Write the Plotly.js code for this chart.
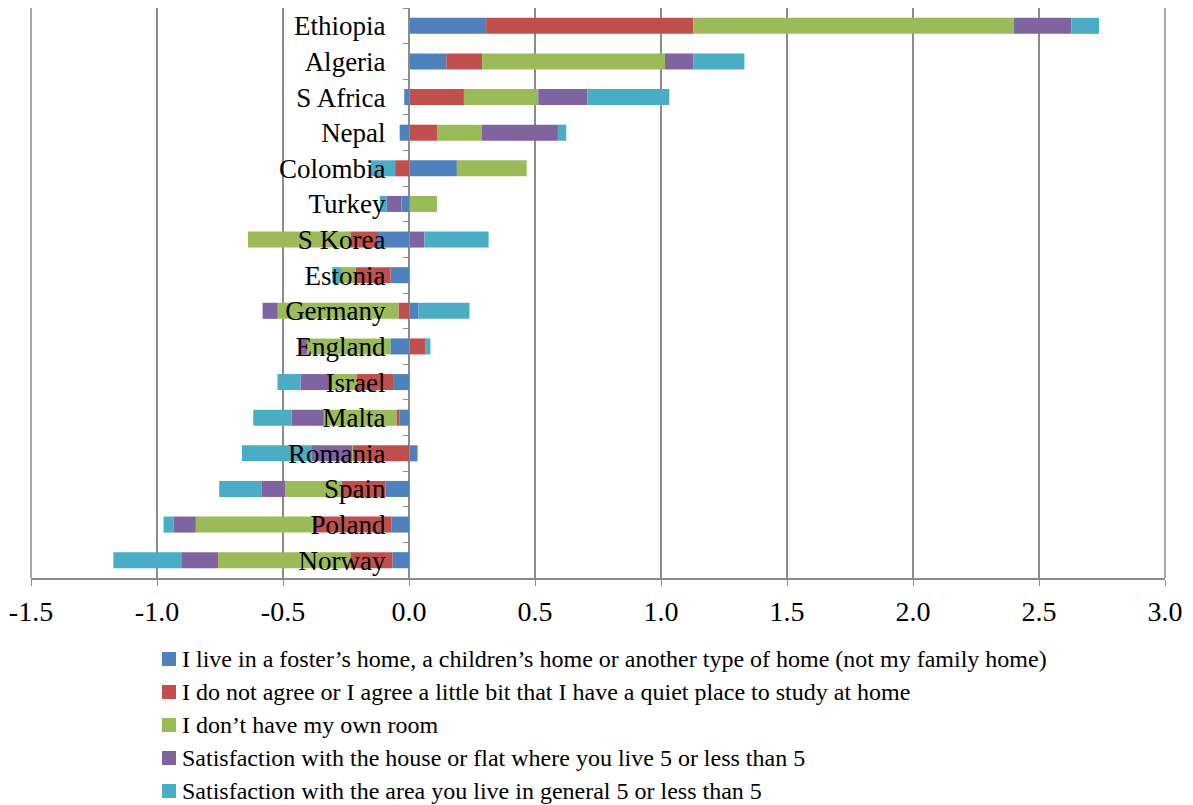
<!DOCTYPE html>
<html>
<head>
<meta charset="utf-8">
<script src="https://cdn.plot.ly/plotly-3.0.1.min.js"></script>
<style>html,body{margin:0;padding:0;background:#fff;}#chart{width:1193px;height:805px;}</style>
</head>
<body>
<div id="chart"></div>
<script>
// Categories, top to bottom
var countries = ["Ethiopia","Algeria","S Africa","Nepal","Colombia","Turkey","S Korea","Estonia","Germany","England","Israel","Malta","Romania","Spain","Poland","Norway"];

var seriesNames = [
  "I live in a foster\u2019s home, a children\u2019s home or another type of home (not my family home)",
  "I do not agree or I agree a little bit that I have a quiet place to study at home",
  "I don\u2019t have my own room",
  "Satisfaction with the house or flat where you live 5 or less than 5",
  "Satisfaction with the area you live in general 5 or less than 5"
];

var fosterHome   = [0.306, 0.148, -0.019, -0.037, 0.190, -0.030, -0.123, -0.073, 0.038, -0.074, -0.060, -0.037, 0.034, -0.094, -0.070, -0.066];
var quietPlace   = [0.822, 0.142, 0.218, 0.111, -0.055, 0.000, -0.110, -0.139, -0.042, 0.066, -0.149, -0.013, -0.222, -0.172, -0.310, -0.167];
var ownRoom      = [1.273, 0.726, 0.295, 0.177, 0.277, 0.111, -0.406, -0.058, -0.479, -0.330, -0.103, -0.288, -0.004, -0.225, -0.466, -0.525];
var houseSatisf  = [0.227, 0.112, 0.195, 0.303, 0.000, -0.058, 0.061, 0.000, -0.060, -0.024, -0.119, -0.127, -0.159, -0.095, -0.087, -0.146];
var areaSatisf   = [0.110, 0.203, 0.325, 0.033, -0.097, -0.028, 0.255, -0.035, 0.202, 0.019, -0.091, -0.153, -0.278, -0.167, -0.041, -0.269];

var xTickVals = [-1.5, -1.0, -0.5, 0.0, 0.5, 1.0, 1.5, 2.0, 2.5, 3.0];
var xTickText = ["-1.5","-1.0","-0.5","0.0","0.5","1.0","1.5","2.0","2.5","3.0"];

var colors = ["#4F81BD","#C0504D","#9BBB59","#8064A2","#4BACC6"];
var allSeries = [fosterHome, quietPlace, ownRoom, houseSatisf, areaSatisf];

var traces = allSeries.map(function(vals, i){
  return {
    type: "bar",
    orientation: "h",
    name: seriesNames[i],
    x: vals,
    y: countries,
    marker: {color: colors[i], line: {width: 0}},
    hoverinfo: "x+y+name",
    showlegend: false
  };
});

var serif = "Liberation Serif";
var gridColor = "#8c8c8c";

// Plot area geometry (pixels) used to place the hand-drawn legend
var W = 1193, H = 805;
var mL = 31, mR = 28, mT = 8, mB = 227;
var plotW = W - mL - mR, plotH = H - mT - mB;
function px2x(px){ return (px - mL) / plotW; }
function px2y(py){ return (H - mB - py) / plotH; }

// Gridlines at the two ends of the value axis (plot edges)
var shapes = [0, 1].map(function(edge){
  return {type: "line", xref: "paper", yref: "paper", x0: edge, x1: edge, y0: 0, y1: 1,
          line: {color: gridColor, width: 1.5}, layer: "below"};
});
var legAnn = [];
seriesNames.forEach(function(name, i){
  var cy = 659 + 33 * i;
  shapes.push({
    type: "rect", xref: "paper", yref: "paper",
    x0: px2x(162), x1: px2x(176), y0: px2y(cy + 7), y1: px2y(cy - 7),
    fillcolor: colors[i], line: {width: 0}
  });
  legAnn.push({
    xref: "paper", yref: "paper", x: px2x(180), y: px2y(cy),
    xanchor: "left", yanchor: "middle", showarrow: false,
    text: name, font: {family: serif, size: 24, color: "#000"}
  });
});

var layout = {
  width: W,
  height: H,
  margin: {l: mL, r: mR, t: mT, b: mB, autoexpand: false},
  paper_bgcolor: "#ffffff",
  plot_bgcolor: "#ffffff",
  barmode: "relative",
  bargap: 0.55,
  showlegend: false,
  font: {family: serif, color: "#000000"},
  xaxis: {
    range: [-1.5, 3.0],
    tickvals: xTickVals,
    ticktext: xTickText,
    showgrid: true,
    gridcolor: gridColor,
    gridwidth: 1.5,
    zeroline: false,
    showline: true,
    linecolor: gridColor,
    linewidth: 1.5,
    ticks: "outside",
    ticklen: 6,
    tickcolor: gridColor,
    ticklabelstandoff: 2,
    tickfont: {family: serif, size: 28, color: "#000"},
    automargin: false,
    fixedrange: true
  },
  yaxis: {
    type: "category",
    autorange: "reversed",
    anchor: "free",
    position: 0.33333,
    showgrid: false,
    zeroline: false,
    showline: true,
    linecolor: gridColor,
    linewidth: 1.5,
    ticks: "outside",
    tickson: "boundaries",
    ticklen: 6,
    tickcolor: gridColor,
    ticklabelstandoff: 18,
    tickfont: {family: serif, size: 27, color: "#000"},
    automargin: false,
    fixedrange: true
  },
  shapes: shapes,
  annotations: legAnn
};

Plotly.newPlot("chart", traces, layout, {displayModeBar: false, staticPlot: true});
</script>
</body>
</html>
